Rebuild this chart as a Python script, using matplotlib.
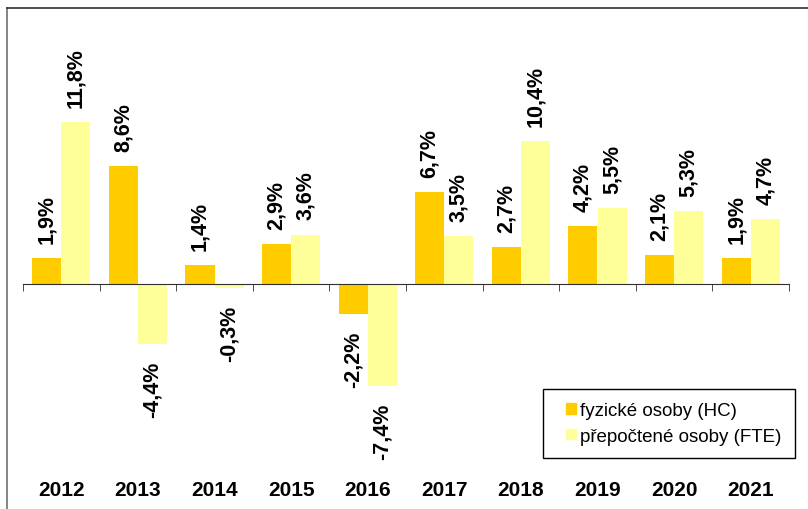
import matplotlib
matplotlib.use('Agg')
import matplotlib.pyplot as plt
import matplotlib.patches as mpatches
import matplotlib.transforms as mtransforms
from matplotlib.legend_handler import HandlerPatch
from matplotlib.lines import Line2D
import numpy as np

plt.rcParams['font.family'] = ['Liberation Sans', 'DejaVu Sans']

years = ['2012', '2013', '2014', '2015', '2016', '2017', '2018', '2019', '2020', '2021']
hc_change = [1.9, 8.6, 1.4, 2.9, -2.2, 6.7, 2.7, 4.2, 2.1, 1.9]
fte_change = [11.8, -4.4, -0.3, 3.6, -7.4, 3.5, 10.4, 5.5, 5.3, 4.7]

HC_COLOR = '#FFCC00'
FTE_COLOR = '#FFFF99'

W, H = 808, 510
fig = plt.figure(figsize=(W / 100, H / 100), dpi=100)

# axes spans x 23..789 px, y 9..510 px (zero line at y=285)
ax = fig.add_axes([23 / W, 0, 766 / W, 501 / H])
px_per_unit = 13.73
ax.set_ylim((285 - 510) / px_per_unit, (285 - 9) / px_per_unit)
ax.set_xlim(-0.5, len(years) - 0.5)

x = np.arange(len(years))
width = 0.38
bars_hc = ax.bar(x - width / 2, hc_change, width, color=HC_COLOR, zorder=2)
bars_fte = ax.bar(x + width / 2, fte_change, width, color=FTE_COLOR, zorder=2)


def fmt(v):
    return f'{v:.1f}%'.replace('.', ',')


for bars, vals in ((bars_hc, hc_change), (bars_fte, fte_change)):
    for b, v in zip(bars, vals):
        cx = b.get_x() + b.get_width() / 2
        off = 11 if v >= 0 else -12
        ax.annotate(fmt(v), (cx, v), xytext=(0, off), textcoords='offset points',
                    rotation=90, ha='center', va='bottom' if v >= 0 else 'top',
                    fontsize=15.5, fontweight='bold')

# zero axis line with boundary ticks
for s in ['top', 'right', 'left']:
    ax.spines[s].set_visible(False)
ax.spines['bottom'].set_position(('data', 0))
ax.spines['bottom'].set_color('#303030')
ax.spines['bottom'].set_zorder(3)
ax.set_yticks([])
ax.set_xticks([])
ax.set_xticks(np.arange(-0.5, len(years)), minor=True)
ax.tick_params(axis='x', which='minor', direction='out', length=5, color='#303030', labelbottom=False)
ax.patch.set_visible(False)

# category labels at the bottom
trans = mtransforms.blended_transform_factory(ax.transData, fig.transFigure)
for xi, yr in zip(x, years):
    ax.text(xi, (H - 490.5) / H, yr, transform=trans, ha='center', va='center',
            fontsize=15, fontweight='bold')


# small square key drawn at the right end of the handle slot
def square_key(legend, orig_handle, xdescent, ydescent, width, height, fontsize):
    s = 7.5
    return mpatches.Rectangle((-xdescent + width - s, -ydescent + (height - s) / 2), s, s)


handles = [mpatches.Patch(color=HC_COLOR, label='fyzické osoby (HC)'),
           mpatches.Patch(color=FTE_COLOR, label='přepočtené osoby (FTE)')]
leg = ax.legend(handles=handles, loc='upper left', bbox_to_anchor=(543 / W, 1 - 390 / H),
                bbox_transform=fig.transFigure, fontsize=13.5, frameon=True, fancybox=False,
                edgecolor='black', framealpha=1, borderpad=0.7, handlelength=1.07,
                handleheight=0.7, handletextpad=0.21, labelspacing=0.45, borderaxespad=0,
                handler_map={mpatches.Patch: HandlerPatch(patch_func=square_key)})
leg.get_frame().set_linewidth(1.0)

# chart area border (cropped)
fig.add_artist(Line2D([7 / W, 7 / W], [0, 1 - 9 / H], transform=fig.transFigure, color='#707070', lw=1.2))
fig.add_artist(Line2D([7 / W, 1], [1 - 9 / H, 1 - 9 / H], transform=fig.transFigure, color='#303030', lw=1.2))

fig.savefig('out.png', dpi=100)
